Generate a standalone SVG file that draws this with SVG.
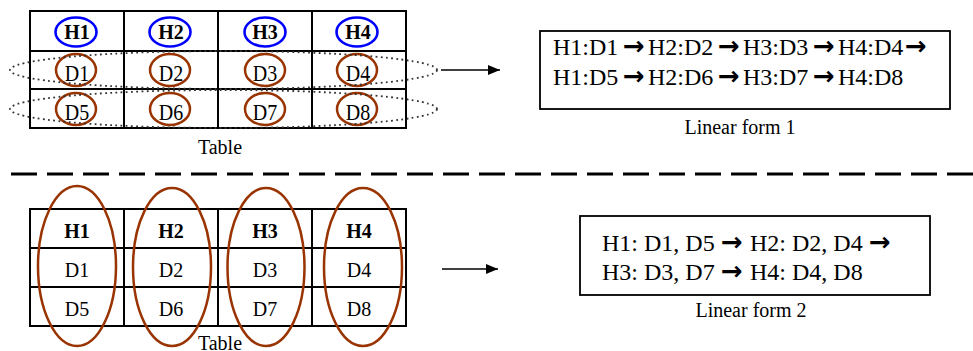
<svg xmlns="http://www.w3.org/2000/svg" width="973" height="351" viewBox="0 0 973 351">
<style>
  .hd, .dt, .cap, .lin { font-family: "Liberation Serif", "Times New Roman", serif; fill: #000; }
  .cell { fill: #fff; stroke: #000; stroke-width: 2; }
  .hd { font-size: 20px; font-weight: bold; text-anchor: middle; }
  .dt { font-size: 20px; text-anchor: middle; }
  .cap { font-size: 20px; text-anchor: middle; }
  .lin { font-size: 24px; }
  .arr { font-family: "DejaVu Sans", sans-serif; font-size: 26px; font-weight: bold; fill: #000; }
  .blue { fill: none; stroke: #0000FF; stroke-width: 2.6; }
  .brown { fill: none; stroke: #993300; stroke-width: 2.5; }
  .dots { fill: none; stroke: #333; stroke-width: 1.8; stroke-dasharray: 1.8 3.4; }
  .box { fill: #fff; stroke: #000; stroke-width: 1.8; }
  .conn { stroke: #000; stroke-width: 1.6; fill: none; }
</style>
<defs>
  <marker id="ah" viewBox="0 0 12 10" refX="12" refY="5" markerWidth="12" markerHeight="10" markerUnits="userSpaceOnUse" orient="auto">
    <path d="M0,0 L12,5 L0,10 z" fill="#000"/>
  </marker>
</defs>

<!-- Top table -->
<g id="table1">
  <rect class="cell" x="30" y="11" width="376" height="117"/>
  <line class="cell" x1="30" y1="51" x2="406" y2="51"/>
  <line class="cell" x1="30" y1="89" x2="406" y2="89"/>
  <line class="cell" x1="124" y1="11" x2="124" y2="128"/>
  <line class="cell" x1="218" y1="11" x2="218" y2="128"/>
  <line class="cell" x1="312" y1="11" x2="312" y2="128"/>
  <text class="hd" x="77" y="39">H1</text>
  <text class="hd" x="171" y="39">H2</text>
  <text class="hd" x="265" y="39">H3</text>
  <text class="hd" x="358" y="39">H4</text>
  <text class="dt" transform="translate(77,81) scale(1,1.15)">D1</text>
  <text class="dt" transform="translate(171,81) scale(1,1.15)">D2</text>
  <text class="dt" transform="translate(265,81) scale(1,1.15)">D3</text>
  <text class="dt" transform="translate(358,81) scale(1,1.15)">D4</text>
  <text class="dt" transform="translate(77,120) scale(1,1.15)">D5</text>
  <text class="dt" transform="translate(171,120) scale(1,1.15)">D6</text>
  <text class="dt" transform="translate(265,120) scale(1,1.15)">D7</text>
  <text class="dt" transform="translate(358,120) scale(1,1.15)">D8</text>
  <ellipse class="blue" cx="76" cy="32" rx="20.5" ry="14.5"/>
  <ellipse class="blue" cx="170" cy="32" rx="20.5" ry="14.5"/>
  <ellipse class="blue" cx="265" cy="32" rx="20.5" ry="14.5"/>
  <ellipse class="blue" cx="357" cy="32" rx="20.5" ry="14.5"/>
  <ellipse class="brown" cx="76" cy="70" rx="20" ry="16"/>
  <ellipse class="brown" cx="170" cy="70" rx="20" ry="16"/>
  <ellipse class="brown" cx="265" cy="70" rx="20" ry="16"/>
  <ellipse class="brown" cx="357" cy="70" rx="20" ry="16"/>
  <ellipse class="brown" cx="76" cy="109" rx="20" ry="16"/>
  <ellipse class="brown" cx="170" cy="109" rx="20" ry="16"/>
  <ellipse class="brown" cx="265" cy="109" rx="20" ry="16"/>
  <ellipse class="brown" cx="357" cy="109" rx="20" ry="16"/>
  <ellipse class="dots" cx="223.5" cy="70" rx="213.5" ry="19"/>
  <ellipse class="dots" cx="223.5" cy="109" rx="213.5" ry="19"/>
  <text class="cap" x="220" y="154">Table</text>
</g>

<!-- Linear form 1 -->
<g id="linear1">
  <rect class="box" x="540" y="31" width="410" height="78"/>
  <text class="lin" x="553" y="55">H1:D1</text>
  <text class="arr" x="623" y="55">→</text>
  <text class="lin" x="648" y="55">H2:D2</text>
  <text class="arr" x="718" y="55">→</text>
  <text class="lin" x="743" y="55">H3:D3</text>
  <text class="arr" x="813" y="55">→</text>
  <text class="lin" x="838" y="55">H4:D4</text>
  <text class="arr" x="905" y="55">→</text>
  <text class="lin" x="553" y="85">H1:D5</text>
  <text class="arr" x="623" y="85">→</text>
  <text class="lin" x="648" y="85">H2:D6</text>
  <text class="arr" x="718" y="85">→</text>
  <text class="lin" x="743" y="85">H3:D7</text>
  <text class="arr" x="813" y="85">→</text>
  <text class="lin" x="838" y="85">H4:D8</text>
  <text class="cap" x="740" y="134">Linear form 1</text>
</g>

<!-- Separator -->
<line x1="11" y1="174" x2="973" y2="174" stroke="#000" stroke-width="3" stroke-dasharray="26 10"/>

<!-- Bottom table -->
<g id="table2">
  <rect class="cell" x="30" y="209" width="376" height="117"/>
  <line class="cell" x1="30" y1="248" x2="406" y2="248"/>
  <line class="cell" x1="30" y1="287" x2="406" y2="287"/>
  <line class="cell" x1="124" y1="209" x2="124" y2="326"/>
  <line class="cell" x1="218" y1="209" x2="218" y2="326"/>
  <line class="cell" x1="312" y1="209" x2="312" y2="326"/>
  <text class="hd" x="77" y="238">H1</text>
  <text class="hd" x="171" y="238">H2</text>
  <text class="hd" x="265" y="238">H3</text>
  <text class="hd" x="359" y="238">H4</text>
  <text class="dt" x="77" y="277">D1</text>
  <text class="dt" x="171" y="277">D2</text>
  <text class="dt" x="265" y="277">D3</text>
  <text class="dt" x="359" y="277">D4</text>
  <text class="dt" x="77" y="316">D5</text>
  <text class="dt" x="171" y="316">D6</text>
  <text class="dt" x="265" y="316">D7</text>
  <text class="dt" x="359" y="316">D8</text>
  <ellipse class="brown" cx="77" cy="266" rx="39" ry="80"/>
  <ellipse class="brown" cx="172" cy="267" rx="39" ry="79"/>
  <ellipse class="brown" cx="266" cy="267" rx="38.5" ry="79"/>
  <ellipse class="brown" cx="363" cy="267" rx="39" ry="79"/>
  <text class="cap" x="220" y="350">Table</text>
</g>

<!-- Linear form 2 -->
<g id="linear2">
  <rect class="box" x="580" y="216" width="350" height="79"/>
  <text class="lin" x="602" y="251">H1: D1, D5</text>
  <text class="arr" x="721" y="251">→</text>
  <text class="lin" x="750" y="251">H2: D2, D4</text>
  <text class="arr" x="869" y="251">→</text>
  <text class="lin" x="602" y="280">H3: D3, D7</text>
  <text class="arr" x="721" y="280">→</text>
  <text class="lin" x="750" y="280">H4: D4, D8</text>
  <text class="cap" x="751" y="317">Linear form 2</text>
</g>

<!-- Connectors -->
<g id="connectors">
  <line class="conn" x1="441" y1="70" x2="500" y2="70" marker-end="url(#ah)"/>
  <line class="conn" x1="442" y1="269" x2="498" y2="269" marker-end="url(#ah)"/>
</g>
</svg>
